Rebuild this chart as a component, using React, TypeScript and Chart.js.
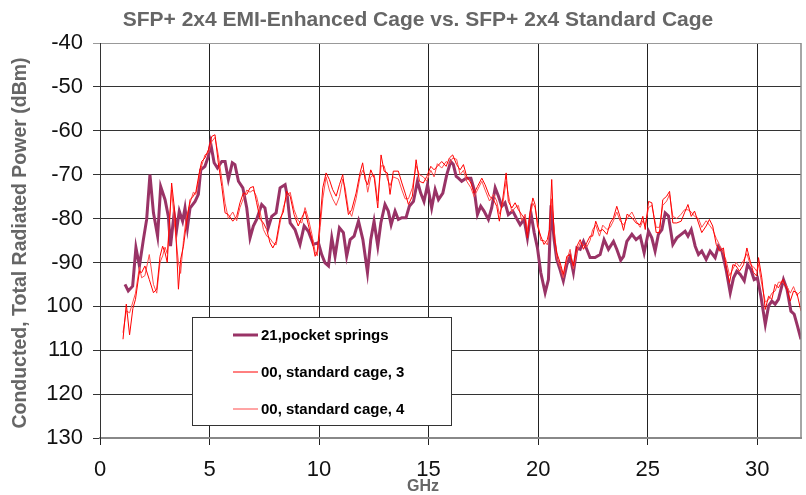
import React, { useEffect, useRef } from "react";
import { Chart, registerables } from "chart.js";

Chart.register(...registerables);

const chartTitle = "SFP+ 2x4 EMI-Enhanced Cage vs. SFP+ 2x4 Standard Cage";
const xTitle = "GHz";
const yTitle = "Conducted, Total Radiated Power (dBm)";
const seriesNames = ["21,pocket springs", "00, standard cage, 3", "00, standard cage, 4"];

const xTickValues = [0, 5, 10, 15, 20, 25, 30];
const yTickValues = [-40, -50, -60, -70, -80, -90, -100, -110, -120, -130];
const yTickLabels = ["-40", "-50", "-60", "-70", "-80", "-90", "100", "110", "120", "130"];

const pocketGHz = [
  1.14, 1.29, 1.49, 1.64, 1.8, 1.98, 2.13, 2.28, 2.44, 2.63, 2.77, 2.97, 3.12, 3.22, 3.38, 3.5, 3.62, 3.77, 3.88, 3.99,
  4.11, 4.34, 4.49, 4.6, 4.79, 4.95, 5.05, 5.21, 5.36, 5.56, 5.71, 5.86, 6.04, 6.16, 6.32, 6.52, 6.7, 6.85, 7.0, 7.15,
  7.38, 7.53, 7.68, 7.84, 8.04, 8.22, 8.45, 8.55, 8.68, 8.9, 9.13, 9.32, 9.51, 9.74, 9.97, 10.12, 10.27, 10.43, 10.58, 10.73,
  10.93, 11.11, 11.26, 11.42, 11.6, 11.8, 12.0, 12.21, 12.36, 12.51, 12.68, 12.82, 13.01, 13.16, 13.29, 13.47, 13.62, 13.78, 13.97, 14.12,
  14.31, 14.49, 14.64, 14.79, 14.95, 15.14, 15.3, 15.45, 15.65, 15.83, 16.01, 16.13, 16.26, 16.36, 16.51, 16.71, 16.93, 17.08, 17.23, 17.38,
  17.53, 17.73, 17.88, 18.04, 18.19, 18.34, 18.49, 18.64, 18.84, 19.0, 19.18, 19.36, 19.51, 19.67, 19.82, 19.97, 20.12, 20.32, 20.47, 20.59,
  20.73, 20.85, 21.0, 21.15, 21.31, 21.46, 21.61, 21.77, 21.92, 22.07, 22.22, 22.37, 22.6, 22.83, 23.01, 23.21, 23.44, 23.59, 23.77, 23.9,
  24.05, 24.28, 24.47, 24.66, 24.84, 25.04, 25.19, 25.34, 25.49, 25.65, 25.8, 25.95, 26.15, 26.33, 26.53, 26.71, 26.84, 26.99, 27.17, 27.32,
  27.47, 27.67, 27.85, 28.08, 28.23, 28.39, 28.58, 28.77, 28.92, 29.07, 29.22, 29.41, 29.56, 29.71, 29.86, 30.01, 30.17, 30.37, 30.52, 30.67,
  30.82, 30.97, 31.2, 31.36, 31.54, 31.69, 31.84, 32.0,
];
const pocketDbm = [
  -95.0, -96.5, -95.4, -86.6, -90.8, -84.8, -80.2, -70.0, -78.7, -84.0, -72.7, -75.7, -79.5, -86.3, -79.0, -82.5, -78.3, -80.6, -77.6, -82.1,
  -77.6, -76.1, -74.5, -68.9, -68.1, -65.8, -62.8, -67.3, -68.5, -67.0, -67.0, -71.1, -67.3, -67.7, -71.5, -73.0, -77.6, -84.4, -81.7, -80.2,
  -76.8, -77.6, -82.1, -79.5, -78.7, -73.0, -72.3, -74.9, -81.0, -82.5, -85.9, -81.7, -82.9, -85.9, -85.5, -88.2, -90.1, -90.8, -84.4, -88.6,
  -82.1, -83.2, -88.6, -84.8, -84.0, -80.6, -84.8, -92.3, -84.8, -80.6, -86.3, -81.0, -76.8, -78.3, -81.4, -78.3, -80.2, -79.8, -79.8, -77.2,
  -76.1, -71.5, -74.2, -76.1, -72.3, -77.6, -73.4, -75.7, -74.2, -70.0, -67.0, -67.7, -70.4, -70.8, -71.5, -70.8, -70.8, -73.4, -79.1, -77.2,
  -78.3, -80.2, -77.6, -73.0, -74.9, -77.2, -76.4, -79.1, -78.3, -79.8, -81.4, -80.2, -84.4, -78.7, -83.2, -86.7, -92.3, -96.9, -93.9, -77.0,
  -84.8, -89.3, -91.6, -94.2, -90.5, -88.6, -92.3, -86.7, -87.0, -85.2, -87.0, -88.9, -88.9, -88.2, -84.8, -87.0, -85.2, -87.0, -89.5, -88.6,
  -85.2, -83.6, -84.8, -84.0, -87.8, -82.9, -84.4, -87.4, -83.6, -82.5, -78.7, -79.4, -85.9, -84.4, -83.6, -82.9, -84.0, -82.5, -86.3, -88.2,
  -87.4, -89.3, -87.4, -88.9, -86.3, -87.4, -91.6, -96.9, -93.5, -92.0, -92.7, -94.2, -90.5, -91.6, -93.9, -93.5, -97.7, -104.1, -99.9, -98.8,
  -99.5, -98.4, -93.9, -96.1, -101.1, -101.8, -104.5, -107.5,
];

const stdGHz = [
  1.05, 1.2, 1.35, 1.5, 1.62, 1.8, 1.9, 2.05, 2.25, 2.44, 2.59, 2.74, 2.86, 2.97, 3.07, 3.27, 3.42, 3.58, 3.68, 3.81,
  3.93, 4.11, 4.26, 4.38, 4.53, 4.64, 4.79, 4.95, 5.1, 5.25, 5.4, 5.56, 5.71, 5.86, 6.06, 6.24, 6.39, 6.54, 6.7, 6.85,
  7.0, 7.15, 7.31, 7.46, 7.61, 7.76, 7.89, 8.04, 8.22, 8.37, 8.52, 8.68, 8.86, 9.05, 9.21, 9.36, 9.51, 9.67, 9.82, 9.92,
  10.05, 10.17, 10.32, 10.47, 10.62, 10.78, 10.93, 11.08, 11.19, 11.34, 11.49, 11.69, 11.87, 11.99, 12.1, 12.22, 12.36, 12.52, 12.68, 12.83,
  12.97, 13.12, 13.24, 13.39, 13.62, 13.78, 13.93, 14.08, 14.26, 14.43, 14.58, 14.76, 14.92, 15.1, 15.25, 15.4, 15.6, 15.8, 15.95, 16.1,
  16.28, 16.44, 16.59, 16.74, 16.93, 17.08, 17.23, 17.43, 17.58, 17.78, 17.96, 18.11, 18.23, 18.39, 18.54, 18.64, 18.8, 18.95, 19.1, 19.25,
  19.41, 19.51, 19.63, 19.76, 19.86, 19.97, 20.12, 20.27, 20.42, 20.52, 20.62, 20.73, 20.85, 21.0, 21.15, 21.31, 21.46, 21.61, 21.77, 21.92,
  22.07, 22.22, 22.37, 22.49, 22.63, 22.8, 22.95, 23.14, 23.29, 23.44, 23.59, 23.74, 23.9, 24.06, 24.28, 24.47, 24.66, 24.78, 24.89, 25.04,
  25.19, 25.39, 25.54, 25.69, 25.87, 26.0, 26.15, 26.33, 26.53, 26.68, 26.84, 26.99, 27.14, 27.32, 27.47, 27.67, 27.82, 27.97, 28.13, 28.28,
  28.46, 28.58, 28.74, 28.89, 29.04, 29.19, 29.38, 29.53, 29.68, 29.83, 29.98, 30.06, 30.21, 30.37, 30.52, 30.67, 30.82, 30.97, 31.17, 31.36,
  31.51, 31.66, 31.81, 32.0,
];
const std3Dbm = [
  -107.5, -99.5, -106.5, -100.5, -98.4, -92.0, -92.3, -90.8, -93.9, -96.9, -96.1, -88.6, -86.3, -87.8, -90.0, -71.9, -78.7, -96.1, -89.3, -86.3,
  -81.7, -75.7, -74.9, -73.8, -69.6, -67.0, -66.2, -64.3, -61.3, -60.9, -67.3, -72.7, -78.7, -79.1, -80.6, -79.5, -76.4, -74.2, -74.5, -73.0,
  -72.7, -76.4, -80.2, -81.0, -82.5, -85.5, -86.7, -85.2, -80.0, -78.5, -73.8, -74.9, -79.1, -81.7, -79.8, -78.3, -81.4, -84.8, -88.6, -87.4,
  -80.2, -73.0, -69.6, -71.1, -73.4, -74.9, -72.3, -70.0, -74.2, -79.1, -78.0, -74.2, -69.6, -67.3, -71.1, -72.3, -68.9, -70.8, -77.6, -65.5,
  -69.2, -69.6, -74.5, -69.2, -69.2, -71.9, -74.2, -76.8, -74.9, -66.6, -71.5, -71.9, -70.4, -68.1, -68.9, -68.1, -67.0, -68.1, -66.2, -65.5,
  -67.7, -68.9, -67.7, -70.4, -71.9, -74.2, -72.7, -70.8, -72.3, -74.9, -75.7, -77.2, -80.6, -75.3, -69.6, -76.1, -77.6, -76.4, -78.0, -79.1,
  -80.2, -84.4, -78.7, -75.3, -76.8, -81.7, -84.0, -85.9, -84.8, -82.5, -71.1, -84.0, -87.8, -90.0, -92.7, -88.6, -88.2, -90.8, -86.3, -84.8,
  -87.0, -85.5, -84.0, -84.0, -80.6, -82.9, -82.5, -83.6, -81.0, -79.8, -77.2, -79.6, -82.7, -79.0, -79.8, -81.0, -81.4, -79.5, -82.5, -76.1,
  -76.4, -83.2, -83.2, -75.7, -74.9, -73.8, -81.0, -81.0, -80.6, -78.7, -76.8, -79.5, -78.3, -81.0, -83.2, -81.7, -80.2, -81.7, -85.9, -87.4,
  -86.7, -91.2, -94.6, -90.5, -90.8, -92.0, -90.5, -86.7, -89.7, -92.3, -93.1, -88.9, -93.5, -100.7, -97.7, -98.4, -95.0, -95.8, -93.9, -96.1,
  -98.8, -96.5, -96.9, -101.1,
];
const std4Dbm = [
  -106.0, -101.0, -101.5, -99.0, -97.0, -91.0, -93.5, -93.0, -88.2, -95.0, -97.0, -90.0, -88.5, -86.5, -88.0, -73.5, -82.0, -90.0, -92.5, -85.0,
  -80.0, -76.5, -74.0, -74.5, -70.5, -68.0, -65.5, -65.0, -62.5, -61.5, -65.5, -71.0, -76.5, -80.0, -78.5, -80.5, -77.5, -75.5, -73.5, -74.0,
  -73.5, -75.0, -78.5, -82.5, -84.0, -84.5, -85.5, -86.0, -81.0, -77.5, -75.0, -74.0, -78.0, -80.5, -81.0, -77.5, -80.0, -83.5, -87.5, -88.5,
  -82.0, -75.5, -70.5, -73.5, -75.5, -77.0, -75.0, -71.0, -73.0, -78.0, -79.5, -75.5, -70.5, -69.0, -70.0, -74.0, -70.5, -70.0, -76.0, -68.0,
  -68.0, -71.0, -72.5, -70.5, -71.0, -73.5, -75.5, -75.5, -73.0, -68.0, -70.0, -70.5, -71.5, -69.0, -70.5, -67.5, -68.5, -67.0, -67.5, -66.2,
  -66.5, -70.0, -69.0, -71.5, -73.0, -75.0, -73.5, -71.5, -73.5, -76.0, -74.5, -76.0, -79.0, -76.5, -71.5, -74.5, -78.5, -77.5, -77.0, -80.5,
  -79.0, -83.0, -79.5, -76.5, -77.5, -80.5, -85.0, -85.0, -86.0, -83.5, -75.5, -82.5, -89.0, -91.0, -93.5, -89.5, -87.0, -91.5, -87.5, -85.5,
  -86.0, -86.5, -85.0, -82.5, -81.5, -84.0, -81.5, -82.5, -82.0, -80.5, -78.5, -80.5, -81.5, -80.0, -78.5, -80.5, -82.0, -80.5, -81.5, -77.5,
  -77.0, -82.0, -82.0, -77.0, -76.0, -74.5, -79.5, -80.0, -79.0, -78.0, -78.0, -78.5, -79.5, -80.0, -82.0, -80.5, -81.5, -82.5, -84.5, -86.0,
  -88.0, -89.5, -93.0, -91.5, -90.0, -91.0, -89.5, -88.0, -90.5, -91.0, -92.0, -90.5, -95.0, -99.0, -98.5, -97.0, -96.5, -94.5, -94.5, -95.5,
  -97.0, -95.5, -97.5, -96.5,
];

const seriesColors = ["#993366", "#ff0000", "#ff4a4a"];
const seriesWidths = [3, 1, 1];

const toPoints = (xs: number[], ys: number[]) => xs.map((x, i) => ({ x, y: ys[i] }));

const FONT = "'Liberation Sans', Arial, sans-serif";

const overlayPlugin = {
  id: "overlay",
  afterDraw(chart: any) {
    const ctx = chart.ctx;
    const ca = chart.chartArea;
    ctx.save();
    // right border of plot area
    ctx.strokeStyle = "#888";
    ctx.lineWidth = 1.5;
    ctx.beginPath();
    ctx.moveTo(ca.right, ca.top);
    ctx.lineTo(ca.right, ca.bottom);
    ctx.stroke();

    // title
    ctx.fillStyle = "#666666";
    ctx.font = `bold 21px ${FONT}`;
    ctx.textAlign = "center";
    ctx.textBaseline = "middle";
    ctx.fillText(chartTitle, 418, 20);

    // x title
    ctx.font = `bold 16px ${FONT}`;
    ctx.fillText(xTitle, 423, 487);

    // y title
    ctx.save();
    ctx.translate(21, 243);
    ctx.rotate(-Math.PI / 2);
    ctx.font = `bold 19.5px ${FONT}`;
    ctx.fillText(yTitle, 0, 0);
    ctx.restore();

    // legend
    const bx = 192.5, by = 317.5, bw = 259, bh = 108;
    ctx.fillStyle = "#ffffff";
    ctx.fillRect(bx, by, bw, bh);
    ctx.strokeStyle = "#333";
    ctx.lineWidth = 1;
    ctx.strokeRect(bx, by, bw, bh);
    const rows = [335, 372, 409];
    seriesNames.forEach((name, i) => {
      ctx.strokeStyle = seriesColors[i];
      ctx.lineWidth = seriesWidths[i];
      ctx.beginPath();
      ctx.moveTo(233, rows[i]);
      ctx.lineTo(258, rows[i]);
      ctx.stroke();
      ctx.fillStyle = "#000";
      ctx.font = `bold 15px ${FONT}`;
      ctx.textAlign = "left";
      ctx.textBaseline = "middle";
      ctx.fillText(name, 261, rows[i] + 1);
    });
    ctx.restore();
  },
};

export default function App() {
  const canvasRef = useRef<HTMLCanvasElement | null>(null);

  useEffect(() => {
    const canvas = canvasRef.current;
    if (!canvas) return;
    const chart = new Chart(canvas, {
      type: "line",
      data: {
        datasets: [
          {
            label: seriesNames[0],
            data: toPoints(pocketGHz, pocketDbm),
            borderColor: seriesColors[0],
            borderWidth: seriesWidths[0],
            pointRadius: 0,
            tension: 0,
            order: 2,
          },
          {
            label: seriesNames[1],
            data: toPoints(stdGHz, std3Dbm),
            borderColor: seriesColors[1],
            borderWidth: seriesWidths[1],
            pointRadius: 0,
            tension: 0,
            order: 0,
          },
          {
            label: seriesNames[2],
            data: toPoints(stdGHz, std4Dbm),
            borderColor: seriesColors[2],
            borderWidth: seriesWidths[2],
            pointRadius: 0,
            tension: 0,
            order: 1,
          },
        ],
      },
      options: {
        animation: false,
        responsive: false,
        layout: { padding: { left: 0, right: 5, top: 43, bottom: 0 } },
        plugins: {
          legend: { display: false },
          title: { display: false },
          tooltip: { enabled: false },
        },
        scales: {
          x: {
            type: "linear",
            min: 0,
            max: 32,
            afterFit: (s: any) => {
              s.height = 57;
            },
            afterBuildTicks: (s: any) => {
              s.ticks = xTickValues.map((v) => ({ value: v }));
            },
            ticks: {
              font: { family: FONT, size: 22 },
              color: "#111",
              padding: 12,
              maxRotation: 0,
            },
            grid: { color: "#222", lineWidth: 1, tickLength: 7 },
            border: { color: "#888", width: 2 },
          },
          y: {
            type: "linear",
            min: -130,
            max: -40,
            afterFit: (s: any) => {
              s.width = 100;
            },
            afterBuildTicks: (s: any) => {
              s.ticks = yTickValues.map((v) => ({ value: v }));
            },
            ticks: {
              font: { family: FONT, size: 22 },
              color: "#111",
              padding: 10,
              callback: (v: any) => {
                const i = yTickValues.indexOf(Number(v));
                return i >= 0 ? yTickLabels[i] : "";
              },
            },
            grid: {
              color: (c: any) => (c.tick && c.tick.value === -40 ? "#999" : "#333"),
              lineWidth: 1,
              tickLength: 7,
            },
            border: { color: "#333", width: 1 },
          },
        },
      },
      plugins: [overlayPlugin],
    });
    return () => chart.destroy();
  }, []);

  return (
    <div style={{ position: "fixed", left: 0, top: 0, width: 806, height: 495, background: "#fff" }}>
      <canvas ref={canvasRef} width={806} height={495} style={{ display: "block" }} />
    </div>
  );
}
